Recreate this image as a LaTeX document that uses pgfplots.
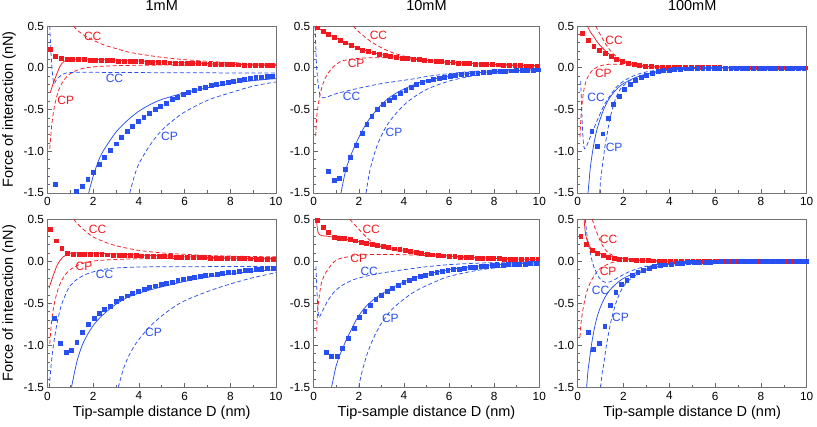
\documentclass[border=0pt]{standalone}
\usepackage{fontspec}
\setmainfont{Liberation Sans}
\usepackage{pgfplots}
\pgfplotsset{compat=1.18}
\definecolor{myred}{RGB}{240,26,32}
\definecolor{myblue}{RGB}{40,80,240}
\tikzset{lab/.style={font=\fontsize{12}{12}\selectfont, inner sep=0pt}}
\pgfplotsset{
  panel/.style={
    scale only axis,
    xmin=0,xmax=10,ymin=-1.5,ymax=0.5,
    xtick={0,2,4,6,8,10}, xticklabels={0,2,4,6,8,10},
    ytick={-1.5,-1,-0.5,0,0.5}, yticklabels={-1.5,-1.0,-0.5,0.0,0.5},
    minor xtick={1,3,5,7,9},
    minor ytick={-1.4,-1.3,-1.2,-1.1,-0.9,-0.8,-0.7,-0.6,-0.4,-0.3,-0.2,-0.1,0.1,0.2,0.3,0.4},
    tick align=inside, xtick pos=bottom, ytick pos=left,
    major tick length=4pt, minor tick length=2.5pt,
    every tick/.style={black!60, line width=0.6pt},
    axis line style={black!55, line width=0.8pt},
    tick label style={font=\fontsize{11.8}{12}\selectfont},
    xticklabel style={yshift=-1pt},
    title style={font=\fontsize{14.5}{16}\selectfont, yshift=6pt},
    label style={font=\fontsize{14.5}{16}\selectfont},
    ylabel style={at={(axis description cs:-0.168,0.5)}, anchor=center, rotate=0},
    xlabel style={at={(axis description cs:0.5,-0.153)}, anchor=center},
  },
  rsq/.style={only marks, mark=square*, mark size=1.95pt, color=myred},
  bsq/.style={only marks, mark=square*, mark size=1.95pt, color=myblue},
  rl/.style={myred, line width=0.75pt, no marks, smooth},
  bl/.style={myblue, line width=0.75pt, no marks, smooth},
  rd/.style={myred, line width=0.75pt, no marks, smooth, dash pattern=on 4pt off 2.5pt},
  bd/.style={myblue, line width=0.75pt, no marks, smooth, dash pattern=on 4pt off 2.5pt},
}
\begin{document}
\begin{tikzpicture}
\useasboundingbox (0,0) rectangle (817pt,427pt);
% ================= TOP LEFT 1mM =================
\begin{axis}[panel, at={(47.5pt,234pt)}, anchor=south west, width=228.5pt, height=167pt,
  title={1mM}, ylabel={Force of interaction (nN)}]
\addplot[rd] coordinates {(1.15,0.5)(1.3,0.45)(1.6,0.39)(2,0.33)(2.5,0.27)(3,0.23)(3.5,0.19)(4,0.165)(5,0.125)(6,0.097)(7,0.077)(8,0.062)(9,0.05)(10,0.042)};
\addplot[rd] coordinates {(0.1,-0.97)(0.15,-0.8)(0.2,-0.65)(0.3,-0.47)(0.4,-0.35)(0.5,-0.26)(0.6,-0.2)(0.8,-0.12)(1,-0.07)(1.3,-0.03)(1.7,0)(2.5,0.02)(4,0.03)(6,0.032)(8,0.032)(10,0.03)};
\addplot[rl] coordinates {(0.12,-0.3)(0.2,-0.23)(0.3,-0.15)(0.4,-0.08)(0.5,-0.01)(0.6,0.04)(0.72,0.076)(0.85,0.092)(1,0.1)(1.5,0.105)(2,0.1)(3,0.09)(4,0.08)(5,0.07)(6,0.06)(7,0.05)(8,0.042)(9,0.035)(10,0.03)};
\addplot[bd] coordinates {(0.1,0.5)(0.13,0.3)(0.17,0.1)(0.21,-0.05)(0.26,-0.17)(0.3,-0.19)(0.4,-0.14)(0.6,-0.09)(0.8,-0.065)(1.2,-0.055)(2,-0.055)(4,-0.058)(6,-0.06)(8,-0.062)(10,-0.063)};
\addplot[bd] coordinates {(3.6,-1.5)(3.8,-1.3)(4,-1.15)(4.5,-0.92)(5,-0.75)(5.5,-0.63)(6,-0.53)(7,-0.39)(8,-0.3)(9,-0.22)(10,-0.17)};
\addplot[bl] coordinates {(1.8,-1.5)(2,-1.3)(2.25,-1.1)(2.5,-0.97)(3,-0.77)(3.5,-0.63)(4,-0.52)(4.5,-0.44)(5,-0.38)(6,-0.3)(7,-0.24)(8,-0.19)(9,-0.155)(10,-0.13)};
\addplot[rsq] coordinates {(0.1,0.22)(0.35,0.14)(0.6,0.11)(0.85,0.10)(1.1,0.10)(1.35,0.10)(1.6,0.098)(1.85,0.095)(2.1,0.092)(2.35,0.09)(2.6,0.088)(2.85,0.085)(3.1,0.083)(3.35,0.08)(3.6,0.078)(3.85,0.075)(4.1,0.073)(4.35,0.07)(4.6,0.068)(4.85,0.065)(5.1,0.063)(5.35,0.06)(5.6,0.058)(5.85,0.056)(6.1,0.054)(6.35,0.052)(6.6,0.05)(6.85,0.048)(7.1,0.046)(7.35,0.044)(7.6,0.042)(7.85,0.04)(8.1,0.038)(8.35,0.036)(8.6,0.035)(8.85,0.033)(9.1,0.031)(9.35,0.03)(9.6,0.028)(9.85,0.026)};
\addplot[bsq] coordinates {(0.32,-1.40)(1.27,-1.48)(1.52,-1.42)(1.76,-1.33)(2.01,-1.25)(2.25,-1.16)(2.5,-1.07)(2.74,-0.99)(2.99,-0.91)(3.23,-0.83)(3.48,-0.76)(3.72,-0.70)(3.97,-0.64)(4.21,-0.59)(4.46,-0.54)(4.7,-0.50)(4.95,-0.46)(5.19,-0.42)(5.44,-0.38)(5.68,-0.35)(5.93,-0.32)(6.17,-0.295)(6.42,-0.27)(6.66,-0.25)(6.91,-0.23)(7.15,-0.213)(7.4,-0.197)(7.64,-0.182)(7.89,-0.168)(8.13,-0.156)(8.38,-0.145)(8.62,-0.135)(8.87,-0.126)(9.11,-0.118)(9.36,-0.111)(9.6,-0.104)(9.85,-0.098)};
\node[lab, myred] at (axis cs:1.98,0.38) {CC};
\node[lab, myred] at (axis cs:0.8,-0.385) {CP};
\node[lab, myblue] at (axis cs:2.93,-0.13) {CC};
\node[lab, myblue] at (axis cs:5.34,-0.82) {CP};
\end{axis}
% ================= TOP MIDDLE 10mM =================
\begin{axis}[panel, at={(313.7pt,234pt)}, anchor=south west, width=225.6pt, height=167pt,
  title={10mM}]
\addplot[rd] coordinates {(1.75,0.5)(2,0.43)(2.5,0.32)(3,0.24)(3.5,0.18)(4,0.14)(4.5,0.11)(5,0.09)(6,0.065)(7,0.05)(8,0.038)(9,0.029)(10,0.022)};
\addplot[rd] coordinates {(0.09,-0.82)(0.13,-0.6)(0.2,-0.45)(0.3,-0.3)(0.43,-0.18)(0.6,-0.08)(0.87,0.01)(1.1,0.06)(1.3,0.085)(1.6,0.1)(1.9,0.11)(2.5,0.12)(3,0.12)(4,0.11)(5,0.09)(6,0.068)(7,0.052)(8,0.04)(9,0.03)(10,0.022)};
\addplot[rl] coordinates {(0.1,0.5)(0.5,0.42)(1,0.355)(1.5,0.29)(2,0.23)(2.5,0.19)(3,0.157)(3.5,0.132)(4,0.113)(5,0.088)(6,0.065)(7,0.05)(8,0.038)(9,0.029)(10,0.022)};
\addplot[bd] coordinates {(0.06,0.49)(0.1,0.2)(0.13,0.01)(0.2,-0.2)(0.28,-0.33)(0.4,-0.36)(0.6,-0.35)(1,-0.31)(2,-0.245)(3,-0.19)(4,-0.15)(4.5,-0.13)(5,-0.105)(6,-0.07)(7,-0.045)(8,-0.028)(9,-0.016)(10,-0.008)};
\addplot[bd] coordinates {(2.32,-1.5)(2.5,-1.22)(2.8,-0.94)(3.2,-0.71)(3.67,-0.54)(4.2,-0.4)(5,-0.26)(6,-0.16)(7,-0.1)(8,-0.065)(9,-0.045)(10,-0.033)};
\addplot[bl] coordinates {(1.21,-1.5)(1.4,-1.25)(1.6,-1.08)(1.85,-0.92)(2.1,-0.78)(2.35,-0.66)(2.5,-0.6)(3,-0.44)(3.5,-0.33)(4,-0.255)(4.5,-0.197)(5,-0.155)(6,-0.1)(7,-0.067)(8,-0.046)(9,-0.033)(10,-0.024)};
\addplot[rsq] coordinates {(0.16,0.48)(0.41,0.44)(0.66,0.40)(0.91,0.365)(1.16,0.335)(1.41,0.30)(1.66,0.27)(1.91,0.24)(2.16,0.215)(2.41,0.195)(2.66,0.18)(2.91,0.165)(3.16,0.15)(3.41,0.138)(3.66,0.125)(3.91,0.117)(4.16,0.11)(4.41,0.104)(4.66,0.098)(4.91,0.09)(5.16,0.084)(5.41,0.078)(5.66,0.073)(5.91,0.067)(6.16,0.062)(6.41,0.058)(6.66,0.054)(6.91,0.05)(7.16,0.047)(7.41,0.044)(7.66,0.041)(7.91,0.038)(8.16,0.036)(8.41,0.034)(8.66,0.031)(8.91,0.029)(9.16,0.027)(9.41,0.025)(9.66,0.023)(9.91,0.022)};
\addplot[bsq] coordinates {(0.65,-1.24)(0.9,-1.35)(1.14,-1.32)(1.39,-1.21)(1.61,-1.07)(1.88,-0.93)(2.13,-0.78)(2.35,-0.68)(2.57,-0.58)(2.82,-0.5)(3.08,-0.44)(3.34,-0.39)(3.57,-0.35)(3.82,-0.30)(4.08,-0.265)(4.34,-0.23)(4.56,-0.2)(4.82,-0.17)(5.06,-0.155)(5.31,-0.14)(5.55,-0.125)(5.8,-0.112)(6.04,-0.1)(6.29,-0.09)(6.53,-0.082)(6.78,-0.074)(7.02,-0.067)(7.27,-0.06)(7.51,-0.055)(7.76,-0.05)(8.0,-0.045)(8.25,-0.041)(8.49,-0.038)(8.74,-0.035)(8.98,-0.032)(9.23,-0.03)(9.47,-0.028)(9.72,-0.026)(9.96,-0.024)};
\node[lab, myred] at (axis cs:2.87,0.39) {CC};
\node[lab, myred] at (axis cs:1.88,0.05) {CP};
\node[lab, myblue] at (axis cs:1.68,-0.34) {CC};
\node[lab, myblue] at (axis cs:3.56,-0.77) {CP};
\end{axis}
% ================= TOP RIGHT 100mM =================
\begin{axis}[panel, at={(577.7pt,234pt)}, anchor=south west, width=229pt, height=167pt,
  title={100mM}]
\addplot[rd] coordinates {(0.79,0.5)(0.9,0.44)(1,0.39)(1.15,0.32)(1.3,0.25)(1.5,0.18)(1.75,0.12)(2,0.08)(2.5,0.035)(3,0.017)(3.5,0.008)(4,0.004)(5,0.001)(6,0)(10,0)};
\addplot[rd] coordinates {(0.1,-0.83)(0.13,-0.65)(0.16,-0.52)(0.22,-0.36)(0.28,-0.25)(0.38,-0.15)(0.5,-0.08)(0.65,-0.03)(0.86,0.01)(1.1,0.03)(1.3,0.04)(1.6,0.042)(1.9,0.038)(2.3,0.028)(2.8,0.017)(3.5,0.008)(4.5,0.002)(6,0)(10,0)};
\addplot[rl] coordinates {(0.42,0.5)(0.55,0.43)(0.71,0.37)(0.85,0.31)(1,0.26)(1.3,0.18)(1.66,0.11)(2,0.068)(2.5,0.035)(3,0.018)(3.5,0.01)(4,0.005)(5,0.002)(6,0)(10,0)};
\addplot[bd] coordinates {(0.13,-0.16)(0.16,-0.4)(0.2,-0.68)(0.25,-0.9)(0.3,-0.97)(0.4,-0.93)(0.5,-0.86)(0.7,-0.73)(0.9,-0.6)(1.15,-0.45)(1.4,-0.34)(1.7,-0.23)(2,-0.16)(2.5,-0.09)(3,-0.05)(3.5,-0.028)(4,-0.016)(5,-0.005)(6,-0.001)(10,0)};
\addplot[bd] coordinates {(0.96,-1.5)(1.0,-1.35)(1.08,-1.17)(1.15,-1.02)(1.22,-0.89)(1.3,-0.77)(1.37,-0.66)(1.47,-0.54)(1.59,-0.42)(1.73,-0.32)(1.88,-0.25)(2.1,-0.19)(2.31,-0.15)(2.6,-0.11)(2.9,-0.085)(3.3,-0.058)(3.6,-0.043)(4,-0.028)(5,-0.01)(6,-0.003)(7,0)(10,0)};
\addplot[bl] coordinates {(0.45,-1.5)(0.5,-1.35)(0.55,-1.2)(0.64,-1.02)(0.75,-0.85)(0.86,-0.72)(1,-0.6)(1.15,-0.49)(1.35,-0.38)(1.59,-0.29)(1.8,-0.23)(2.02,-0.185)(2.46,-0.125)(3,-0.075)(3.5,-0.045)(4,-0.028)(5,-0.01)(6,-0.003)(7,0)(10,0)};
\addplot[rsq] coordinates {(0.2,0.41)(0.45,0.33)(0.7,0.26)(0.95,0.21)(1.2,0.175)(1.45,0.135)(1.7,0.10)(1.95,0.077)(2.2,0.057)(2.45,0.042)(2.7,0.03)(2.95,0.022)(3.2,0.017)(3.45,0.013)(3.7,0.01)(3.95,0.008)(4.2,0.006)(4.45,0.005)(4.7,0.004)(4.95,0.003)(5.2,0.003)(5.45,0.002)(5.7,0.002)(5.95,0.002)(6.2,0.002)(6.45,0.001)(6.7,0.001)(6.95,0.001)(7.2,0.001)(7.45,0.001)(7.7,0.001)(7.95,0.001)(8.2,0.001)(8.45,0.001)(8.7,0.001)(8.95,0.001)(9.2,0.001)(9.45,0.001)(9.7,0.001)(9.95,0.001)};
\addplot[bsq] coordinates {(0.61,-0.76)(0.86,-0.94)(1.09,-0.79)(1.34,-0.6)(1.56,-0.44)(1.82,-0.34)(2.04,-0.26)(2.28,-0.2)(2.53,-0.15)(2.77,-0.115)(3.01,-0.085)(3.26,-0.062)(3.52,-0.046)(3.74,-0.034)(3.99,-0.026)(4.23,-0.02)(4.48,-0.015)(4.72,-0.012)(4.97,-0.009)(5.21,-0.007)(5.46,-0.006)(5.7,-0.005)(5.95,-0.004)(6.19,-0.003)(6.44,-0.003)(6.68,-0.002)(6.93,-0.002)(7.17,-0.002)(7.42,-0.002)(7.66,-0.002)(7.91,-0.001)(8.15,-0.001)(8.4,-0.001)(8.64,-0.001)(8.89,-0.001)(9.13,-0.001)(9.38,-0.001)(9.62,-0.001)(9.87,-0.001)};
\node[lab, myred] at (axis cs:1.59,0.33) {CC};
\node[lab, myred] at (axis cs:1.12,-0.07) {CP};
\node[lab, myblue] at (axis cs:0.8,-0.36) {CC};
\node[lab, myblue] at (axis cs:1.59,-0.95) {CP};
\end{axis}
% ================= BOTTOM LEFT 1mM =================
\begin{axis}[panel, at={(47.5pt,39.7pt)}, anchor=south west, width=228.5pt, height=168pt,
  ylabel={Force of interaction (nN)}, xlabel={Tip-sample distance D (nm)}]
\addplot[rd] coordinates {(1.15,0.5)(1.3,0.45)(1.45,0.41)(1.7,0.35)(2,0.29)(2.5,0.23)(3,0.185)(3.5,0.155)(4,0.13)(5,0.1)(6,0.083)(7,0.07)(8,0.062)(9,0.057)(10,0.053)};
\addplot[rd] coordinates {(0.1,-0.98)(0.15,-0.8)(0.21,-0.65)(0.28,-0.53)(0.36,-0.43)(0.45,-0.34)(0.58,-0.25)(0.7,-0.19)(0.87,-0.13)(1.05,-0.09)(1.3,-0.05)(1.6,-0.02)(2,0.003)(2.5,0.015)(3,0.022)(4,0.03)(6,0.035)(8,0.036)(10,0.035)};
\addplot[rl] coordinates {(0.07,-0.32)(0.15,-0.25)(0.29,-0.14)(0.4,-0.06)(0.5,-0.01)(0.58,0.02)(0.7,0.055)(0.85,0.08)(1,0.095)(1.3,0.1)(1.6,0.1)(2,0.097)(3,0.087)(4,0.076)(5,0.065)(6,0.055)(7,0.046)(8,0.039)(9,0.032)(10,0.027)};
\addplot[bd] coordinates {(0.08,-1.5)(0.17,-1.2)(0.28,-0.96)(0.43,-0.72)(0.55,-0.58)(0.65,-0.49)(0.8,-0.39)(0.94,-0.31)(1.1,-0.26)(1.31,-0.21)(1.6,-0.165)(1.89,-0.135)(2.3,-0.105)(2.77,-0.085)(3.5,-0.072)(4.5,-0.066)(6,-0.064)(8,-0.063)(10,-0.062)};
\addplot[bd] coordinates {(3.1,-1.5)(3.3,-1.3)(3.5,-1.16)(3.75,-1.03)(4,-0.93)(4.5,-0.77)(5,-0.65)(5.5,-0.55)(6,-0.47)(7,-0.36)(8,-0.27)(9,-0.195)(10,-0.135)};
\addplot[bl] coordinates {(1.05,-1.5)(1.2,-1.3)(1.31,-1.17)(1.45,-1.05)(1.6,-0.95)(1.8,-0.85)(2.04,-0.75)(2.3,-0.67)(2.62,-0.59)(3,-0.51)(3.5,-0.43)(4,-0.38)(4.5,-0.34)(5,-0.305)(6,-0.24)(7,-0.19)(8,-0.15)(9,-0.12)(10,-0.1)};
\addplot[rsq] coordinates {(0.12,0.38)(0.37,0.245)(0.62,0.16)(0.87,0.1)(1.12,0.085)(1.37,0.085)(1.62,0.085)(1.87,0.083)(2.12,0.082)(2.37,0.08)(2.62,0.078)(2.87,0.076)(3.12,0.074)(3.37,0.072)(3.62,0.07)(3.87,0.068)(4.12,0.066)(4.37,0.064)(4.62,0.062)(4.87,0.06)(5.12,0.058)(5.37,0.056)(5.62,0.054)(5.87,0.052)(6.12,0.05)(6.37,0.048)(6.62,0.046)(6.87,0.044)(7.12,0.042)(7.37,0.04)(7.62,0.039)(7.87,0.037)(8.12,0.035)(8.37,0.034)(8.62,0.032)(8.87,0.031)(9.12,0.029)(9.37,0.028)(9.62,0.027)(9.87,0.026)};
\addplot[bsq] coordinates {(0.29,-0.68)(0.55,-0.98)(0.8,-1.08)(1.05,-1.06)(1.28,-0.96)(1.53,-0.84)(1.78,-0.75)(2.04,-0.68)(2.26,-0.62)(2.5,-0.57)(2.74,-0.53)(2.99,-0.48)(3.24,-0.44)(3.47,-0.41)(3.72,-0.38)(3.98,-0.36)(4.23,-0.33)(4.47,-0.31)(4.72,-0.29)(4.96,-0.275)(5.21,-0.26)(5.45,-0.245)(5.7,-0.23)(5.94,-0.215)(6.19,-0.2)(6.43,-0.19)(6.68,-0.18)(6.92,-0.17)(7.17,-0.16)(7.41,-0.15)(7.66,-0.14)(7.9,-0.133)(8.15,-0.126)(8.39,-0.118)(8.64,-0.11)(8.88,-0.103)(9.13,-0.096)(9.37,-0.09)(9.62,-0.084)(9.86,-0.078)};
\node[lab, myred] at (axis cs:2.19,0.38) {CC};
\node[lab, myred] at (axis cs:1.6,-0.06) {CP};
\node[lab, myblue] at (axis cs:2.5,-0.15) {CC};
\node[lab, myblue] at (axis cs:4.64,-0.85) {CP};
\end{axis}
% ================= BOTTOM MIDDLE 10mM =================
\begin{axis}[panel, at={(313.7pt,39.7pt)}, anchor=south west, width=225.6pt, height=168pt,
  xlabel={Tip-sample distance D (nm)}]
\addplot[rd] coordinates {(1.6,0.5)(1.8,0.44)(2.04,0.37)(2.25,0.31)(2.49,0.25)(2.75,0.2)(3.07,0.165)(3.4,0.14)(3.66,0.125)(4,0.11)(4.54,0.095)(5,0.085)(6,0.063)(7,0.046)(8,0.035)(9,0.027)(10,0.021)};
\addplot[rd] coordinates {(0.13,-0.83)(0.16,-0.65)(0.2,-0.52)(0.27,-0.37)(0.35,-0.25)(0.5,-0.15)(0.65,-0.09)(0.8,-0.035)(1,0.014)(1.2,0.035)(1.46,0.05)(1.75,0.065)(2.04,0.074)(2.5,0.08)(3,0.082)(3.66,0.08)(4.54,0.074)(5,0.068)(6,0.055)(7,0.042)(8,0.033)(9,0.026)(10,0.02)};
\addplot[rl] coordinates {(0.12,0.5)(0.15,0.42)(0.18,0.36)(0.25,0.32)(0.35,0.305)(0.57,0.3)(0.8,0.29)(1,0.28)(1.5,0.26)(2,0.235)(2.5,0.21)(3,0.18)(3.5,0.155)(4,0.13)(4.5,0.11)(5,0.09)(6,0.063)(7,0.046)(8,0.035)(9,0.027)(10,0.021)};
\addplot[bd] coordinates {(0.1,-0.06)(0.13,-0.25)(0.16,-0.45)(0.2,-0.62)(0.24,-0.67)(0.3,-0.64)(0.43,-0.57)(0.6,-0.48)(0.8,-0.4)(1,-0.34)(1.3,-0.28)(1.75,-0.22)(2.2,-0.185)(2.6,-0.16)(3,-0.14)(4,-0.1)(5,-0.065)(6,-0.04)(7,-0.025)(8,-0.015)(9,-0.009)(10,-0.006)};
\addplot[bd] coordinates {(2.0,-1.5)(2.1,-1.36)(2.26,-1.2)(2.4,-1.08)(2.56,-0.97)(2.75,-0.86)(2.93,-0.77)(3.15,-0.68)(3.37,-0.6)(3.6,-0.54)(3.81,-0.49)(4.2,-0.41)(4.54,-0.35)(5,-0.29)(5.5,-0.23)(6,-0.18)(7,-0.12)(8,-0.08)(9,-0.055)(10,-0.04)};
\addplot[bl] coordinates {(0.79,-1.5)(0.9,-1.36)(1.0,-1.24)(1.15,-1.12)(1.31,-1.02)(1.45,-0.93)(1.6,-0.85)(1.9,-0.69)(2.1,-0.61)(2.34,-0.53)(2.78,-0.43)(3.37,-0.33)(3.96,-0.25)(4.54,-0.19)(5,-0.155)(6,-0.1)(7,-0.065)(8,-0.043)(9,-0.028)(10,-0.019)};
\addplot[rsq] coordinates {(0.16,0.49)(0.43,0.41)(0.65,0.345)(0.9,0.29)(1.13,0.28)(1.35,0.27)(1.6,0.26)(1.85,0.245)(2.09,0.23)(2.34,0.22)(2.59,0.205)(2.82,0.19)(3.07,0.18)(3.32,0.165)(3.56,0.15)(3.81,0.14)(4.06,0.13)(4.29,0.12)(4.54,0.105)(4.78,0.095)(5.03,0.087)(5.27,0.079)(5.52,0.072)(5.76,0.066)(6.01,0.061)(6.25,0.056)(6.5,0.052)(6.74,0.048)(6.99,0.045)(7.23,0.042)(7.48,0.039)(7.72,0.036)(7.97,0.034)(8.21,0.032)(8.46,0.03)(8.7,0.028)(8.95,0.026)(9.19,0.025)(9.44,0.023)(9.68,0.022)(9.93,0.021)};
\addplot[bsq] coordinates {(0.54,-1.08)(0.79,-1.13)(1.04,-1.13)(1.28,-1.03)(1.53,-0.92)(1.78,-0.8)(2.01,-0.67)(2.26,-0.59)(2.51,-0.52)(2.75,-0.45)(3.0,-0.4)(3.25,-0.36)(3.49,-0.32)(3.74,-0.285)(3.99,-0.25)(4.22,-0.225)(4.47,-0.2)(4.71,-0.18)(4.96,-0.162)(5.2,-0.146)(5.45,-0.132)(5.69,-0.12)(5.94,-0.108)(6.18,-0.098)(6.43,-0.089)(6.67,-0.081)(6.92,-0.074)(7.16,-0.067)(7.41,-0.061)(7.65,-0.056)(7.9,-0.051)(8.14,-0.047)(8.39,-0.043)(8.63,-0.039)(8.88,-0.036)(9.12,-0.033)(9.37,-0.03)(9.61,-0.028)(9.86,-0.026)};
\node[lab, myred] at (axis cs:2.55,0.38) {CC};
\node[lab, myred] at (axis cs:2.0,0.03) {CP};
\node[lab, myblue] at (axis cs:2.46,-0.12) {CC};
\node[lab, myblue] at (axis cs:3.4,-0.68) {CP};
\end{axis}
% ================= BOTTOM RIGHT 100mM =================
\begin{axis}[panel, at={(577.7pt,39.7pt)}, anchor=south west, width=229pt, height=168pt,
  xlabel={Tip-sample distance D (nm)}]
\addplot[rd] coordinates {(0.64,0.5)(0.7,0.44)(0.79,0.37)(0.9,0.3)(1.0,0.23)(1.15,0.16)(1.3,0.11)(1.5,0.075)(1.73,0.05)(2,0.033)(2.31,0.02)(2.7,0.011)(3.2,0.005)(4,0.001)(5,0)(10,0)};
\addplot[rd] coordinates {(0.1,-0.9)(0.14,-0.75)(0.2,-0.62)(0.28,-0.5)(0.4,-0.36)(0.54,-0.26)(0.7,-0.18)(0.85,-0.12)(1.0,-0.08)(1.27,-0.04)(1.5,-0.015)(1.73,0.0)(2.1,0.01)(2.6,0.008)(3.5,0.004)(5,0.001)(6,0)(10,0)};
\addplot[rl] coordinates {(0.28,0.5)(0.31,0.4)(0.35,0.31)(0.42,0.24)(0.5,0.19)(0.6,0.15)(0.71,0.13)(0.85,0.11)(1,0.094)(1.2,0.078)(1.44,0.062)(1.7,0.048)(2.02,0.034)(2.4,0.022)(2.75,0.014)(3.2,0.008)(4,0.003)(5,0.001)(6,0)(10,0)};
\addplot[bd] coordinates {(0.33,0.5)(0.4,0.33)(0.47,0.2)(0.55,0.1)(0.65,-0.02)(0.76,-0.1)(0.9,-0.18)(1.05,-0.23)(1.2,-0.25)(1.4,-0.245)(1.6,-0.22)(1.85,-0.18)(2.2,-0.13)(2.7,-0.08)(3.3,-0.045)(4.2,-0.02)(5,-0.008)(6,-0.003)(7,0)(10,0)};
\addplot[bd] coordinates {(1.0,-1.5)(1.07,-1.33)(1.15,-1.2)(1.22,-1.06)(1.3,-0.93)(1.4,-0.78)(1.51,-0.65)(1.62,-0.54)(1.73,-0.45)(1.87,-0.36)(2.02,-0.29)(2.2,-0.235)(2.46,-0.18)(2.75,-0.135)(3.04,-0.1)(3.5,-0.065)(3.9,-0.045)(4.5,-0.025)(5,-0.015)(6,-0.005)(7,-0.001)(8,0)(10,0)};
\addplot[bl] coordinates {(0.39,-1.5)(0.45,-1.3)(0.5,-1.2)(0.57,-1.05)(0.64,-0.93)(0.75,-0.77)(0.86,-0.65)(1.0,-0.54)(1.15,-0.45)(1.35,-0.36)(1.59,-0.29)(1.8,-0.24)(2.02,-0.2)(2.46,-0.145)(3.04,-0.09)(3.5,-0.06)(3.9,-0.042)(4.5,-0.025)(5,-0.016)(6,-0.006)(7,-0.002)(8,0)(10,0)};
\addplot[rsq] coordinates {(0.13,0.30)(0.38,0.2)(0.64,0.13)(0.86,0.093)(1.12,0.074)(1.34,0.054)(1.59,0.042)(1.83,0.03)(2.08,0.024)(2.32,0.019)(2.57,0.015)(2.81,0.012)(3.06,0.009)(3.3,0.007)(3.55,0.005)(3.79,0.004)(4.04,0.003)(4.28,0.002)(4.53,0.001)(4.77,0)(5.02,0)(5.26,0)(5.51,0)(5.75,0)(6.0,0)(6.24,0)(6.49,0)(6.73,0)(6.98,0)(7.22,0)(7.47,0)(7.71,0)(7.96,0)(8.2,0)(8.45,0)(8.69,0)(8.94,0)(9.18,0)(9.43,0)(9.67,0)(9.92,0)};
\addplot[bsq] coordinates {(0.45,-0.84)(0.68,-1.05)(0.93,-0.97)(1.18,-0.77)(1.41,-0.52)(1.66,-0.37)(1.89,-0.27)(2.14,-0.22)(2.39,-0.17)(2.62,-0.135)(2.87,-0.103)(3.11,-0.083)(3.35,-0.063)(3.6,-0.05)(3.84,-0.04)(4.09,-0.032)(4.33,-0.025)(4.58,-0.02)(4.82,-0.016)(5.07,-0.013)(5.31,-0.01)(5.56,-0.008)(5.8,-0.006)(6.05,-0.005)(6.29,-0.004)(6.54,-0.003)(6.78,-0.002)(7.03,-0.002)(7.27,-0.002)(7.52,-0.001)(7.76,-0.001)(8.01,-0.001)(8.25,-0.001)(8.5,-0.001)(8.74,-0.001)(8.99,0)(9.23,0)(9.48,0)(9.72,0)(9.97,0)};
\node[lab, myred] at (axis cs:1.35,0.26) {CC};
\node[lab, myred] at (axis cs:1.33,-0.12) {CP};
\node[lab, myblue] at (axis cs:1.0,-0.35) {CC};
\node[lab, myblue] at (axis cs:1.87,-0.67) {CP};
\end{axis}
\end{tikzpicture}
\end{document}
